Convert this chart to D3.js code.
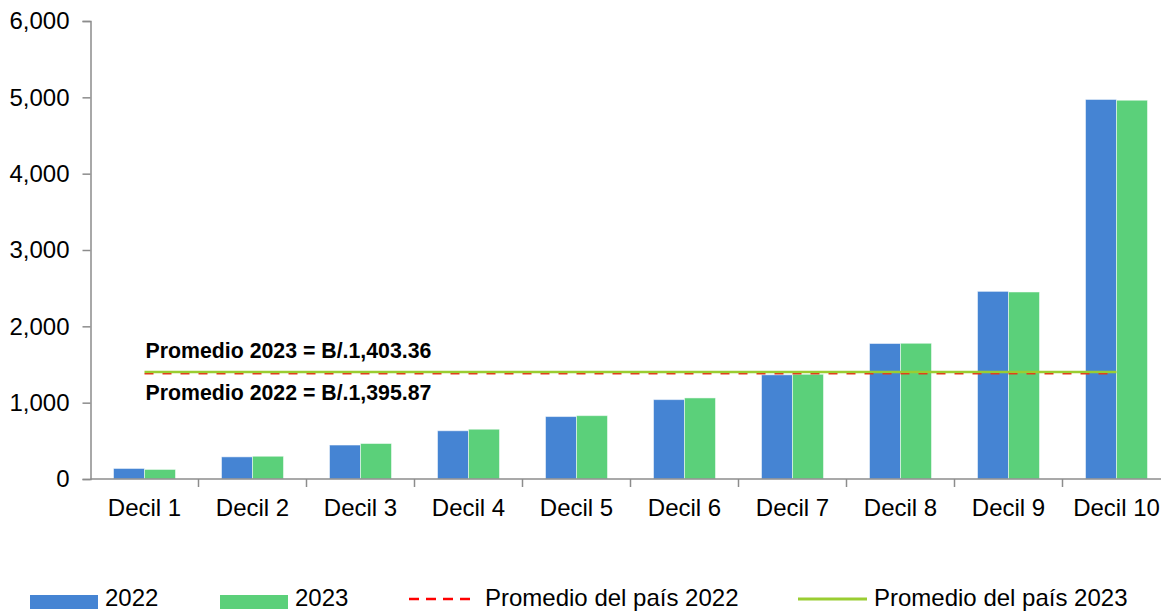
<!DOCTYPE html>
<html>
<head>
<meta charset="utf-8">
<script src="https://cdn.jsdelivr.net/npm/d3@7"></script>
<style>
  html, body { margin: 0; padding: 0; background: #fff; }
  svg { display: block; font-family: "Liberation Sans", Arial, sans-serif; }
</style>
</head>
<body>
<svg id="chart" width="1161" height="612"></svg>
<script>
const categories = ["Decil 1","Decil 2","Decil 3","Decil 4","Decil 5","Decil 6","Decil 7","Decil 8","Decil 9","Decil 10"];
const seriesNames = ["2022","2023"];
const values2022 = [138, 290, 445, 632, 818, 1040, 1365, 1775, 2458, 4972];
const values2023 = [125, 298, 465, 652, 830, 1062, 1372, 1778, 2450, 4962];
const avg2022 = 1395.87;
const avg2023 = 1403.36;
const yTicks = [0, 1000, 2000, 3000, 4000, 5000, 6000];
const avgLabel2023 = "Promedio 2023 = B/.1,403.36";
const avgLabel2022 = "Promedio 2022 = B/.1,395.87";
const legendLabels = ["2022", "2023", "Promedio del país 2022", "Promedio del país 2023"];

const colors = { "2022": "#4584d3", "2023": "#5bd07a" };
const red = "#ff0000", lime = "#9acd32", axisColor = "#8c8c8c";
const fontSize = "24px";

const svg = d3.select("#chart");
const mLeft = 90.5, mRight = 1170.5, mTop = 21, mBottom = 479;

const x0 = d3.scaleBand().domain(categories).range([mLeft, mRight]).paddingInner(0.426).paddingOuter(0.213);
const x1 = d3.scaleBand().domain(seriesNames).range([0, x0.bandwidth()]);
const y = d3.scaleLinear().domain([0, 6000]).range([mBottom, mTop]);
const step = x0.step();
const center = c => x0(c) + x0.bandwidth() / 2;

// Bars
const data = categories.map((c, i) => ({ cat: c, vals: [
  { s: "2022", v: values2022[i] }, { s: "2023", v: values2023[i] } ] }));
const g = svg.append("g");
g.selectAll("g.cat").data(data).join("g")
  .attr("transform", d => `translate(${x0(d.cat)},0)`)
  .selectAll("rect").data(d => d.vals).join("rect")
  .attr("x", d => x1(d.s))
  .attr("width", x1.bandwidth())
  .attr("y", d => y(d.v))
  .attr("height", d => y(0) - y(d.v))
  .attr("fill", d => colors[d.s])
  .attr("stroke", "rgba(255,255,255,0.5)")
  .attr("stroke-width", 1);

// Y axis
const yAxis = d3.axisLeft(y).tickValues(yTicks).tickFormat(d3.format(",")).tickSize(8).tickPadding(13);
const ya = svg.append("g").attr("transform", `translate(${mLeft},0)`).call(yAxis);
ya.select(".domain").attr("stroke", axisColor).attr("stroke-width", 1.5);
ya.selectAll(".tick line").attr("stroke", axisColor).attr("stroke-width", 1.5);
ya.selectAll(".tick text").attr("fill", "#000").style("font-size", fontSize).attr("font-family", "Liberation Sans, Arial, sans-serif");

// X axis
const xa = svg.append("g").attr("transform", `translate(0,${mBottom})`);
xa.append("line").attr("x1", mLeft).attr("x2", mRight).attr("stroke", axisColor).attr("stroke-width", 1.5);
xa.selectAll("line.tk").data(categories).join("line").attr("class", "tk")
  .attr("x1", d => x0(d) - x0.paddingOuter() * step + step)
  .attr("x2", d => x0(d) - x0.paddingOuter() * step + step)
  .attr("y1", 0).attr("y2", 8)
  .attr("stroke", axisColor).attr("stroke-width", 1.5);
xa.selectAll("text").data(categories).join("text")
  .attr("x", d => center(d)).attr("y", 37)
  .attr("text-anchor", "middle").attr("fill", "#000").style("font-size", fontSize)
  .text(d => d);

// Average lines
const lx1 = center(categories[0]), lx2 = center(categories[categories.length - 1]);
svg.append("line").attr("x1", lx1).attr("x2", lx2).attr("y1", y(avg2023)).attr("y2", y(avg2023))
  .attr("stroke", lime).attr("stroke-width", 2.5);
svg.append("line").attr("x1", lx1).attr("x2", lx2).attr("y1", y(avg2022) + 1.2).attr("y2", y(avg2022) + 1.2)
  .attr("stroke", "#e0401a").attr("stroke-width", 1.5).attr("stroke-dasharray", "9,9");

svg.append("text").attr("x", lx1 + 1).attr("y", y(avg2023) - 14)
  .style("font-size", "21.3px").attr("font-weight", "bold").attr("fill", "#000").text(avgLabel2023);
svg.append("text").attr("x", lx1 + 1).attr("y", y(avg2022) + 28)
  .style("font-size", "21.3px").attr("font-weight", "bold").attr("fill", "#000").text(avgLabel2022);

// Legend
const lg = svg.append("g");
const ly = 602;
const legendItems = [
  { type: "rect", color: colors["2022"], x: 30, w: 68, tx: 105, label: legendLabels[0] },
  { type: "rect", color: colors["2023"], x: 220, w: 68, tx: 295, label: legendLabels[1] },
  { type: "dash", color: red, x: 409, w: 63, tx: 485, label: legendLabels[2] },
  { type: "line", color: lime, x: 798, w: 69, tx: 874, label: legendLabels[3] }
];
legendItems.forEach(it => {
  if (it.type === "rect") {
    lg.append("rect").attr("x", it.x).attr("y", ly - 7).attr("width", it.w).attr("height", 14).attr("fill", it.color);
  } else {
    lg.append("line").attr("x1", it.x).attr("x2", it.x + it.w).attr("y1", ly - 3).attr("y2", ly - 3)
      .attr("stroke", it.color).attr("stroke-width", it.type === "dash" ? 2.5 : 3)
      .attr("stroke-dasharray", it.type === "dash" ? "10,7" : null);
  }
  lg.append("text").attr("x", it.tx).attr("y", 606).style("font-size", fontSize).attr("fill", "#000").text(it.label);
});
</script>
</body>
</html>
